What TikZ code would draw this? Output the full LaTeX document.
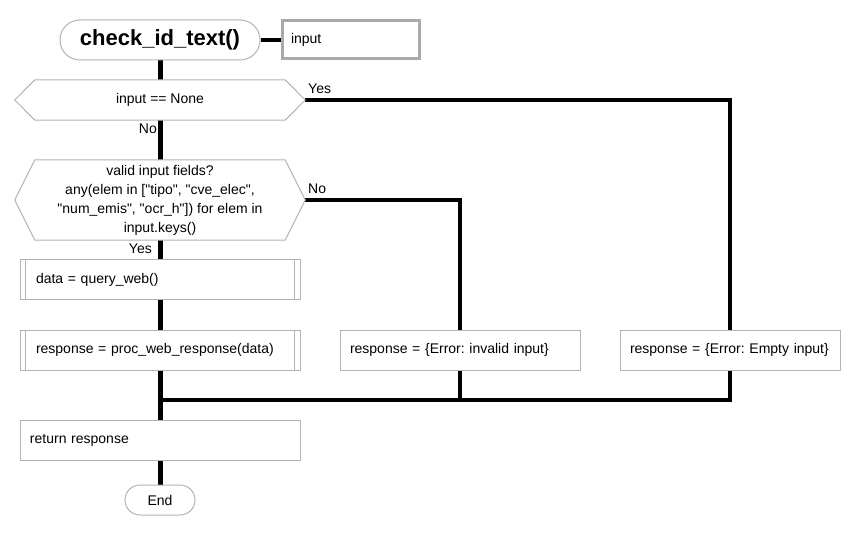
\documentclass[tikz,border=0pt]{standalone}
\usepackage{fontspec}
\setmainfont{Liberation Sans}[Ligatures=TeXOff]
\usetikzlibrary{shapes.misc,backgrounds}
\definecolor{boxgray}{HTML}{B3B3B3}
\definecolor{inputgray}{HTML}{AAAAAA}
\newcommand{\fsnorm}{\fontsize{14}{19}\selectfont\frenchspacing}
\begin{document}
\begin{tikzpicture}[x=1pt,y=-1pt,
  base/.style={draw=boxgray, line width=1pt, fill=white, inner ysep=0pt, font=\fsnorm, text=black},
  procbox/.style={base, minimum height=40pt, align=left},
  term/.style={base, rounded rectangle, inner xsep=0pt},
  hexnode/.style={inner sep=0pt, minimum height=40pt, minimum width=290pt, font=\fsnorm, align=center},
  hexdraw/.style={draw=boxgray, line width=1pt, fill=white},
  lbl/.style={inner sep=0pt, font=\fsnorm},
  mainline/.style={line width=5pt},
  branch/.style={line width=3.5pt}]
\useasboundingbox (0,0) rectangle (860,540);

% nodes
\node[term, minimum width=200pt, minimum height=40pt, font=\bfseries\fontsize{22}{26}\selectfont] (start) at (160,40) {check\_id\_text()};
\node[base, draw=inputgray, line width=3pt, minimum height=38pt, text width=119pt, inner xsep=9pt, align=left] (inp) at (350.5,40) {input};

\node[hexnode] (h1) at (160,100) {input == None};
\node[hexnode, minimum height=80pt] (h2) at (160,200) {valid input fields?\\any(elem in ["tipo", "cve\_elec",\\"num\_emis", "ocr\_h"]) for elem in\\input.keys()};

\node[procbox, text width=248pt, inner xsep=16pt] (q) at (160,280) {\mbox{data = query\_web()}};
\node[procbox, text width=248pt, inner xsep=16pt] (p) at (160,350) {\mbox{response = proc\_web\_response(data)}};
\node[procbox, text width=220pt, inner xsep=10pt] (e1) at (460,350) {\mbox{response = \{Error: invalid input\}}};
\node[procbox, text width=200pt, inner xsep=10pt] (e2) at (730,350) {\mbox{response = \{Error: Empty input\}}};
\node[procbox, text width=260pt, inner xsep=10pt] (r) at (160,440) {\mbox{return response}};
\node[term, minimum width=70pt, minimum height=30pt] (endn) at (160,500) {End};

\coordinate (m) at (160,400);

% labels
\node[lbl, anchor=west] (y1) at (308,89) {Yes};
\node[lbl, anchor=east] (n1) at (157,129) {No};
\node[lbl, anchor=west] (n2) at (308,189) {No};
\node[lbl, anchor=east] (y2) at (152,249) {Yes};

% subroutine inner bars
\foreach \n in {q,p}{
  \draw[boxgray, line width=1pt] ([xshift=6pt]\n.north west) -- ([xshift=6pt]\n.south west);
  \draw[boxgray, line width=1pt] ([xshift=-6pt]\n.north east) -- ([xshift=-6pt]\n.south east);
}

\begin{pgfonlayer}{background}
  \fill[white] (0,0) rectangle (860,540);
  \draw[mainline] (start.south) -- (endn.north);
  \draw[branch] (start.east) -- (inp.west);
  \draw[branch] (h1.east) -| (e2.north);
  \draw[branch] (h2.east) -| (e1.north);
  \draw[branch] (e2.south) |- (m);
  \draw[branch] (e1.south) -- (e1.south |- m);
  % hexagon outlines
  \foreach \h in {h1,h2}{
    \draw[hexdraw] (\h.west) -- ([xshift=20pt]\h.north west) -- ([xshift=-20pt]\h.north east)
      -- (\h.east) -- ([xshift=-20pt]\h.south east) -- ([xshift=20pt]\h.south west) -- cycle;
  }
\end{pgfonlayer}
\end{tikzpicture}
\end{document}
